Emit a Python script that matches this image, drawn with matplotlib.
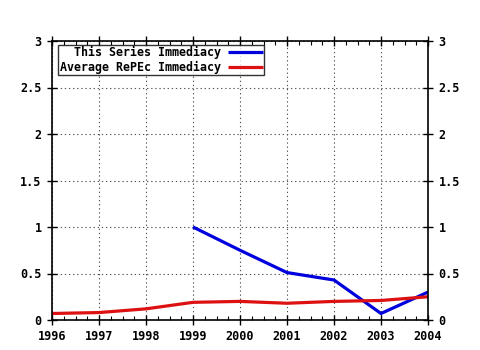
import numpy as np
import matplotlib
matplotlib.use("Agg")
import matplotlib.pyplot as plt
from matplotlib.ticker import MultipleLocator

years_series = [1999, 2000, 2001, 2002, 2003, 2004]
series_imm = [1.0, 0.75, 0.51, 0.43, 0.07, 0.30]

years_avg = [1996, 1997, 1998, 1999, 2000, 2001, 2002, 2003, 2004]
avg_imm = [0.07, 0.08, 0.12, 0.19, 0.20, 0.18, 0.20, 0.21, 0.25]

plt.rcParams['font.family'] = 'DejaVu Sans Mono'
plt.rcParams['font.weight'] = 'bold'
plt.rcParams['font.size'] = 8.5

fig = plt.figure(figsize=(4.8, 3.5), dpi=100)
ax = fig.add_axes([52/480, 30/350, 376/480, 279/350])

ax.plot(years_series, series_imm, color='#0000dd', lw=2.3, label='This Series Immediacy', solid_capstyle='butt')
ax.plot(years_avg, avg_imm, color='#dd1111', lw=2.3, label='Average RePEc Immediacy', solid_capstyle='butt')

ax.set_xlim(1996, 2004)
ax.set_ylim(0, 3)
ax.xaxis.set_major_locator(MultipleLocator(1))
ax.xaxis.set_minor_locator(MultipleLocator(0.25))
ax.yaxis.set_major_locator(MultipleLocator(0.5))
ax.yaxis.set_major_formatter(plt.FuncFormatter(lambda v, p: f"{v:g}"))

ax.grid(True, which='major', color='#555555', linestyle=(0, (1.2, 2.5)), lw=0.8)
ax.tick_params(which='major', direction='inout', length=7, width=1, top=True, right=True,
               labelright=True, colors='black', pad=4)
ax.tick_params(which='minor', direction='in', length=3, width=0.8, top=True, bottom=True)
for s in ax.spines.values():
    s.set_linewidth(1.2)

leg = ax.legend(loc='upper left', markerfirst=False, frameon=True, fancybox=False,
                handlelength=3.0, handletextpad=0.6, borderpad=0.15, labelspacing=0.1,
                borderaxespad=0.3, fontsize=8.4, bbox_to_anchor=(0.006, 1.0))
leg.get_frame().set_edgecolor('black')
leg.get_frame().set_linewidth(1)

fig.savefig('out.png', dpi=100)
